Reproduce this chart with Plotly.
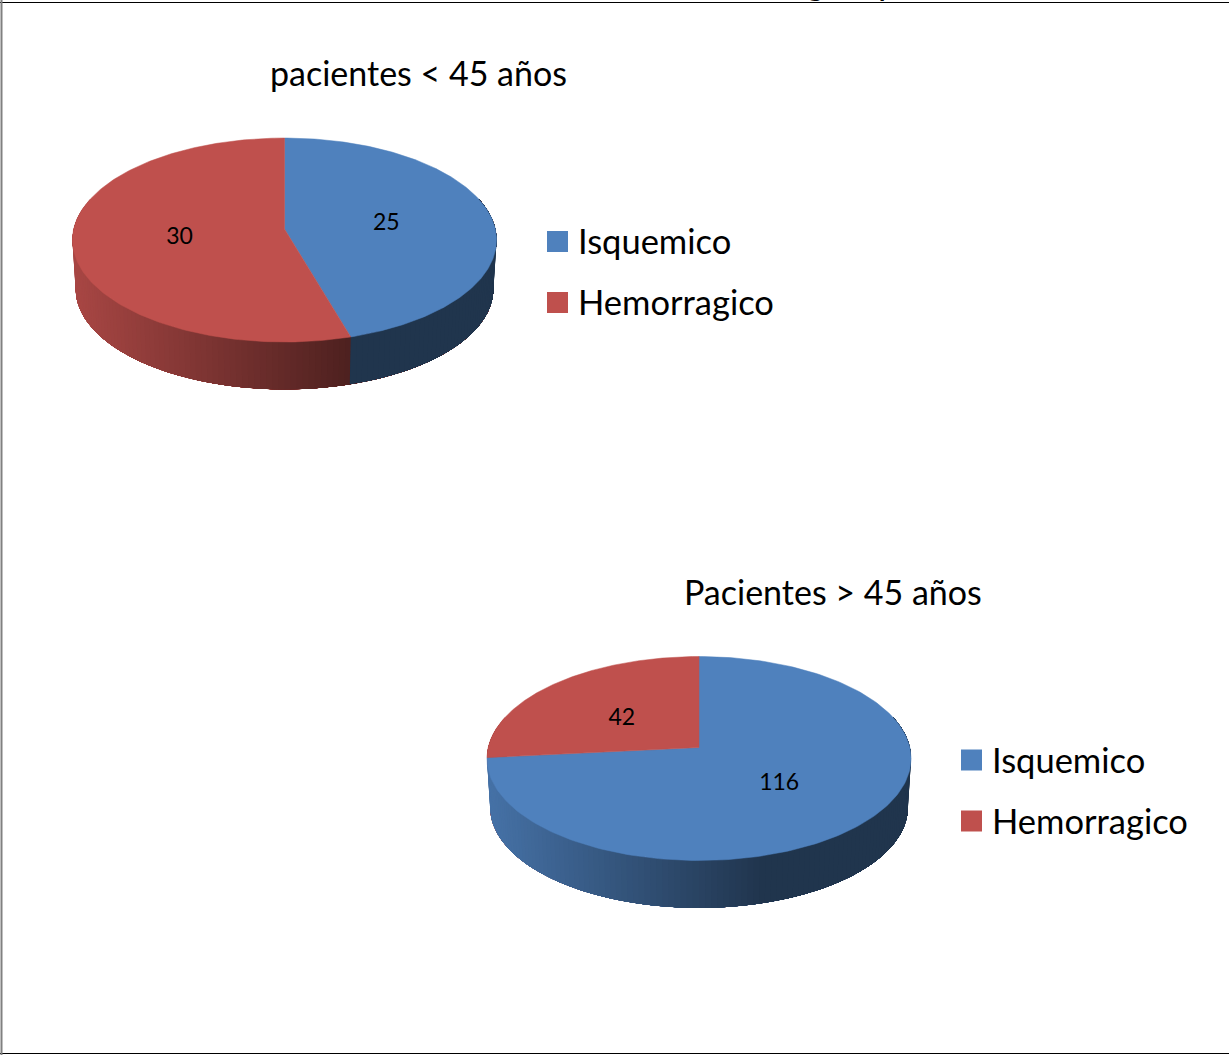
import numpy as np
import plotly.graph_objects as go

# Chart data
categories = ["Isquemico", "Hemorragico"]
under_45_values = [25, 30]
over_45_values = [116, 42]
under_45_title = "pacientes < 45 años"
over_45_title = "Pacientes > 45 años"

# Styling
SLICE_RGB = [(79, 129, 189), (191, 80, 77)]
FONT = "Lato"
WIDTH, HEIGHT = 1229, 1055
TILT = 0.108          # perspective strength of the tilted disc
RADIUS_X = 210.8
RADIUS_Y = 100.8
DEPTH = 49
BASE_SCALE = 0.985    # the lower rim sits slightly further from the viewer
LABEL_SIZE = 23
KEY_SIZE = 34.5
TITLE_SIZE = 34


def project(theta, cx, cy, scale=1.0):
    """Map clockwise-from-top angles (radians) on the disc to plot coordinates."""
    u, v = np.sin(theta), -np.cos(theta)
    d = 1 - TILT * v
    return cx + scale * RADIUS_X * u / d, cy + scale * RADIUS_Y * v / d


def rgb(c, k=1.0):
    return "rgb(%d,%d,%d)" % tuple(round(x * k) for x in c)


def draw_pie(fig, values, cx, cy, reach_x, reach_y):
    total = sum(values)
    edges = np.concatenate([[0], np.cumsum(values)]) / total * 2 * np.pi
    left = cx - RADIUS_X * BASE_SCALE
    span = 2 * RADIUS_X * BASE_SCALE

    # Side wall, painted left to right. Each layer runs all the way to the right
    # end and the next one covers it, so neighbouring shades leave no seams.
    lo, hi = np.radians(72), np.radians(288)
    grid = np.arange(lo, hi, np.radians(1.5))
    inner = [e for e in edges if lo < e < hi]
    stops = np.unique(np.r_[grid, inner, hi])[::-1]
    for upper, lower in zip(stops[:-1], stops[1:]):
        mid = (upper + lower) / 2
        idx = int(np.searchsorted(edges, mid, side="right") - 1)
        th = np.linspace(upper, lo, max(int((upper - lo) / np.radians(3)), 2))
        x1, y1 = project(th, cx, cy)
        x2, y2 = project(th[::-1], cx, cy + DEPTH, BASE_SCALE)
        xm = float(project(np.array([mid]), cx, cy, BASE_SCALE)[0][0])
        t = min(max((xm - left) / span, 0) / 0.65, 1)
        colour = rgb(SLICE_RGB[idx], 0.88 - 0.47 * t)
        fig.add_trace(go.Scatter(
            x=np.r_[x1, x2], y=np.r_[y1, y2], mode="lines", fill="toself",
            fillcolor=colour, line=dict(width=0),
            hoverinfo="skip", showlegend=False))

    # Top face
    for i, name in enumerate(categories):
        th = np.linspace(edges[i], edges[i + 1], 200)
        x, y = project(th, cx, cy)
        colour = rgb(SLICE_RGB[i])
        fig.add_trace(go.Scatter(
            x=np.r_[cx, x, cx], y=np.r_[cy, y, cy], mode="lines", fill="toself",
            fillcolor=colour, line=dict(color=colour, width=0.5),
            name=name, text=f"{name}: {values[i]}", hoverinfo="text", showlegend=False))

    # Value labels part-way along each slice's middle radius
    mids = (edges[:-1] + edges[1:]) / 2
    mx, my = project(mids, cx, cy)
    fig.add_trace(go.Scatter(
        x=cx + np.array(reach_x) * (mx - cx), y=cy + np.array(reach_y) * (my - cy) + 2.5,
        mode="text", text=[str(v) for v in values], textposition="middle center",
        textfont=dict(family=FONT, size=LABEL_SIZE, color="black"),
        hoverinfo="skip", showlegend=False))


def draw_key(fig, x, y_first, gap):
    for i, name in enumerate(categories):
        y = y_first + i * gap
        fig.add_trace(go.Scatter(
            x=[x + 10.5], y=[y], mode="markers",
            marker=dict(symbol="square", size=21, color=rgb(SLICE_RGB[i]), line=dict(width=0)),
            hoverinfo="skip", showlegend=False))
        fig.add_annotation(x=x + 28.5, y=y - 1, text=name, showarrow=False, xanchor="left",
                           yanchor="middle", font=dict(family=FONT, size=KEY_SIZE, color="black"))


fig = go.Figure()
draw_pie(fig, under_45_values, 284.5, 229, [0.495, 0.495], [0.495, 0.495])
draw_pie(fig, over_45_values, 699, 747.5, [0.476, 0.53], [0.476, 0.49])
draw_key(fig, 547, 241.5, 61)
draw_key(fig, 961, 760, 61)

for text, x, y in [(under_45_title, 418.5, 72), (over_45_title, 833, 591)]:
    fig.add_annotation(x=x, y=y, text=text, showarrow=False,
                       font=dict(family=FONT, size=TITLE_SIZE, color="black"))

# The heading runs off the top of the page, leaving only its descenders
for glyph, x in [("g", 815), ("p", 888)]:
    fig.add_annotation(x=x, y=4, text=glyph, showarrow=False, yanchor="bottom",
                       font=dict(family=FONT, size=36, color="black"), borderpad=0)

# Frame around the page
frame_black = dict(color="black", width=1)
fig.add_shape(type="line", x0=0, x1=WIDTH, y0=2.5, y1=2.5, line=frame_black)
fig.add_shape(type="line", x0=0, x1=WIDTH, y0=1053.5, y1=1053.5, line=frame_black)
fig.add_shape(type="line", x0=1.5, x1=1.5, y0=0, y1=HEIGHT, line=dict(color="#808080", width=2))

fig.update_layout(
    width=WIDTH, height=HEIGHT, margin=dict(l=0, r=0, t=0, b=0),
    paper_bgcolor="white", plot_bgcolor="white", showlegend=False,
    xaxis=dict(range=[0, WIDTH], visible=False, fixedrange=True),
    yaxis=dict(range=[HEIGHT, 0], visible=False, fixedrange=True),
)
fig.write_html("out.html", config={"displayModeBar": False})
